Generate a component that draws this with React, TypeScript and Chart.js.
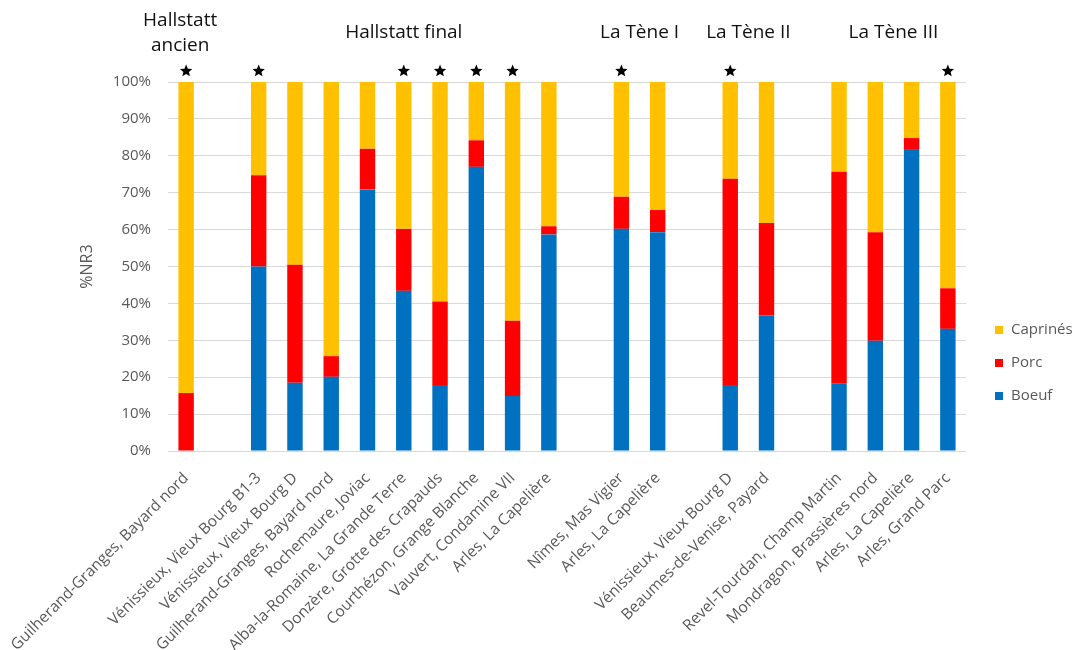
import { useEffect, useRef } from "react";
import { Chart, registerables } from "chart.js";

Chart.register(...registerables);

const categories = [
  "Guilherand-Granges, Bayard nord",
  "",
  "Vénissieux, Vieux Bourg B1-3",
  "Vénissieux, Vieux Bourg D",
  "Guilherand-Granges, Bayard nord",
  "Rochemaure, Joviac",
  "Alba-la-Romaine, La Grande Terre",
  "Donzère, Grotte des Crapauds",
  "Courthézon, Grange Blanche",
  "Vauvert, Condamine VII",
  "Arles, La Capelière",
  "",
  "Nîmes, Mas Vigier",
  "Arles, La Capelière",
  "",
  "Vénissieux, Vieux Bourg D",
  "Beaumes-de-Venise, Payard",
  "",
  "Revel-Tourdan, Champ Martin",
  "Mondragon, Brassières nord",
  "Arles, La Capelière",
  "Arles, Grand Parc",
];

const boeuf = [0, null, 50, 18.5, 20.1, 70.9, 43.4, 17.9, 77, 14.9, 58.7, null, 60.2, 59.3, null, 17.9, 36.7, null, 18.2, 29.9, 81.6, 33.1];
const porc = [15.7, null, 24.7, 32, 5.6, 11, 16.8, 22.6, 7.2, 20.4, 2.2, null, 8.7, 6, null, 55.9, 25.1, null, 57.5, 29.4, 3.2, 11];
const caprines = [84.3, null, 25.3, 49.5, 74.3, 18.1, 39.8, 59.5, 15.8, 64.7, 39.1, null, 31.1, 34.7, null, 26.2, 38.2, null, 24.3, 40.7, 15.2, 55.9];

const starred = [1, 0, 1, 0, 0, 0, 1, 1, 1, 1, 0, 0, 1, 0, 0, 1, 0, 0, 0, 0, 0, 1];

const groupLabels = [["Hallstatt", "ancien"], ["Hallstatt final"], ["La Tène I"], ["La Tène II"], ["La Tène III"]];
const groupStart = [0, 2, 12, 15, 18];
const groupEnd = [0, 10, 13, 16, 21];

const seriesNames = ["Boeuf", "Porc", "Caprinés"];
const seriesColors = ["#0070C0", "#FF0000", "#FFC000"];

const FONT = "'Open Sans', 'Liberation Sans', sans-serif";

function drawStar(ctx: CanvasRenderingContext2D, cx: number, cy: number, r: number) {
  const inner = r * 0.45;
  ctx.beginPath();
  for (let i = 0; i < 10; i++) {
    const rad = i % 2 === 0 ? r : inner;
    const a = -Math.PI / 2 + (i * Math.PI) / 5;
    const x = cx + rad * Math.cos(a);
    const y = cy + rad * Math.sin(a);
    if (i === 0) ctx.moveTo(x, y);
    else ctx.lineTo(x, y);
  }
  ctx.closePath();
  ctx.fill();
}

const overlayPlugin = {
  id: "overlay",
  afterDraw(chart: any) {
    const ctx = chart.ctx as CanvasRenderingContext2D;
    const xs = chart.scales.x;
    ctx.save();
    // stars
    ctx.fillStyle = "#000";
    starred.forEach((s, i) => {
      if (s) drawStar(ctx, xs.getPixelForValue(i), 71, 6.5);
    });
    // group labels
    ctx.font = `19px ${FONT}`;
    ctx.textAlign = "center";
    ctx.textBaseline = "middle";
    ctx.fillStyle = "#111";
    groupLabels.forEach((lines, g) => {
      const cx = (xs.getPixelForValue(groupStart[g]) + xs.getPixelForValue(groupEnd[g])) / 2;
      const lh = 25;
      const y0 = 33 - ((lines.length - 1) * lh) / 2;
      lines.forEach((t, k) => ctx.fillText(t, g === 0 ? cx - 6 : cx, y0 + k * lh));
    });
    // legend
    ctx.font = `15px ${FONT}`;
    ctx.textAlign = "left";
    const legendY = [396, 363, 330];
    seriesNames.forEach((n, i) => {
      ctx.fillStyle = seriesColors[i];
      ctx.fillRect(995, legendY[i] - 4, 8, 8);
      ctx.fillStyle = "#595959";
      ctx.fillText(n, 1011, legendY[i]);
    });
    ctx.restore();
  },
};

export default function App() {
  const ref = useRef<HTMLCanvasElement>(null);
  useEffect(() => {
    if (!ref.current) return;
    const series = [boeuf, porc, caprines];
    const chart = new Chart(ref.current, {
      type: "bar",
      data: {
        labels: categories,
        datasets: series.map((d, i) => ({
          label: seriesNames[i],
          data: d,
          backgroundColor: seriesColors[i],
          borderWidth: 0,
          categoryPercentage: 0.5,
          barPercentage: 0.85,
        })),
      },
      options: {
        responsive: false,
        animation: false,
        layout: { padding: { left: 70, right: 114, top: 82, bottom: 0 } },
        plugins: {
          legend: { display: false },
          tooltip: { enabled: false },
        },
        scales: {
          x: {
            stacked: true,
            grid: { display: false },
            border: { display: false },
            ticks: {
              autoSkip: false,
              maxRotation: 45,
              minRotation: 45,
              padding: 10,
              color: "#595959",
              font: { family: FONT, size: 15.5 },
            },
            afterFit: (s: any) => {
              s.height = 199;
            },
          },
          y: {
            stacked: true,
            min: 0,
            max: 100,
            grid: { color: "#d9d9d9", drawTicks: false, lineWidth: 1 },
            border: { display: false },
            ticks: {
              stepSize: 10,
              padding: 17,
              color: "#595959",
              font: { family: FONT, size: 15 },
              callback: (v: any) => `${v}%`,
            },
            title: {
              display: true,
              text: "%NR3",
              color: "#595959",
              font: { family: FONT, size: 16 },
              padding: { top: 8, bottom: 0 },
            },
            afterFit: (s: any) => {
              s.width = 98;
            },
          },
        },
      },
      plugins: [overlayPlugin],
    });
    return () => chart.destroy();
  }, []);
  return (
    <div style={{ position: "absolute", left: 0, top: 0, width: 1080, height: 650 }}>
      <canvas ref={ref} width={1080} height={650} />
    </div>
  );
}
